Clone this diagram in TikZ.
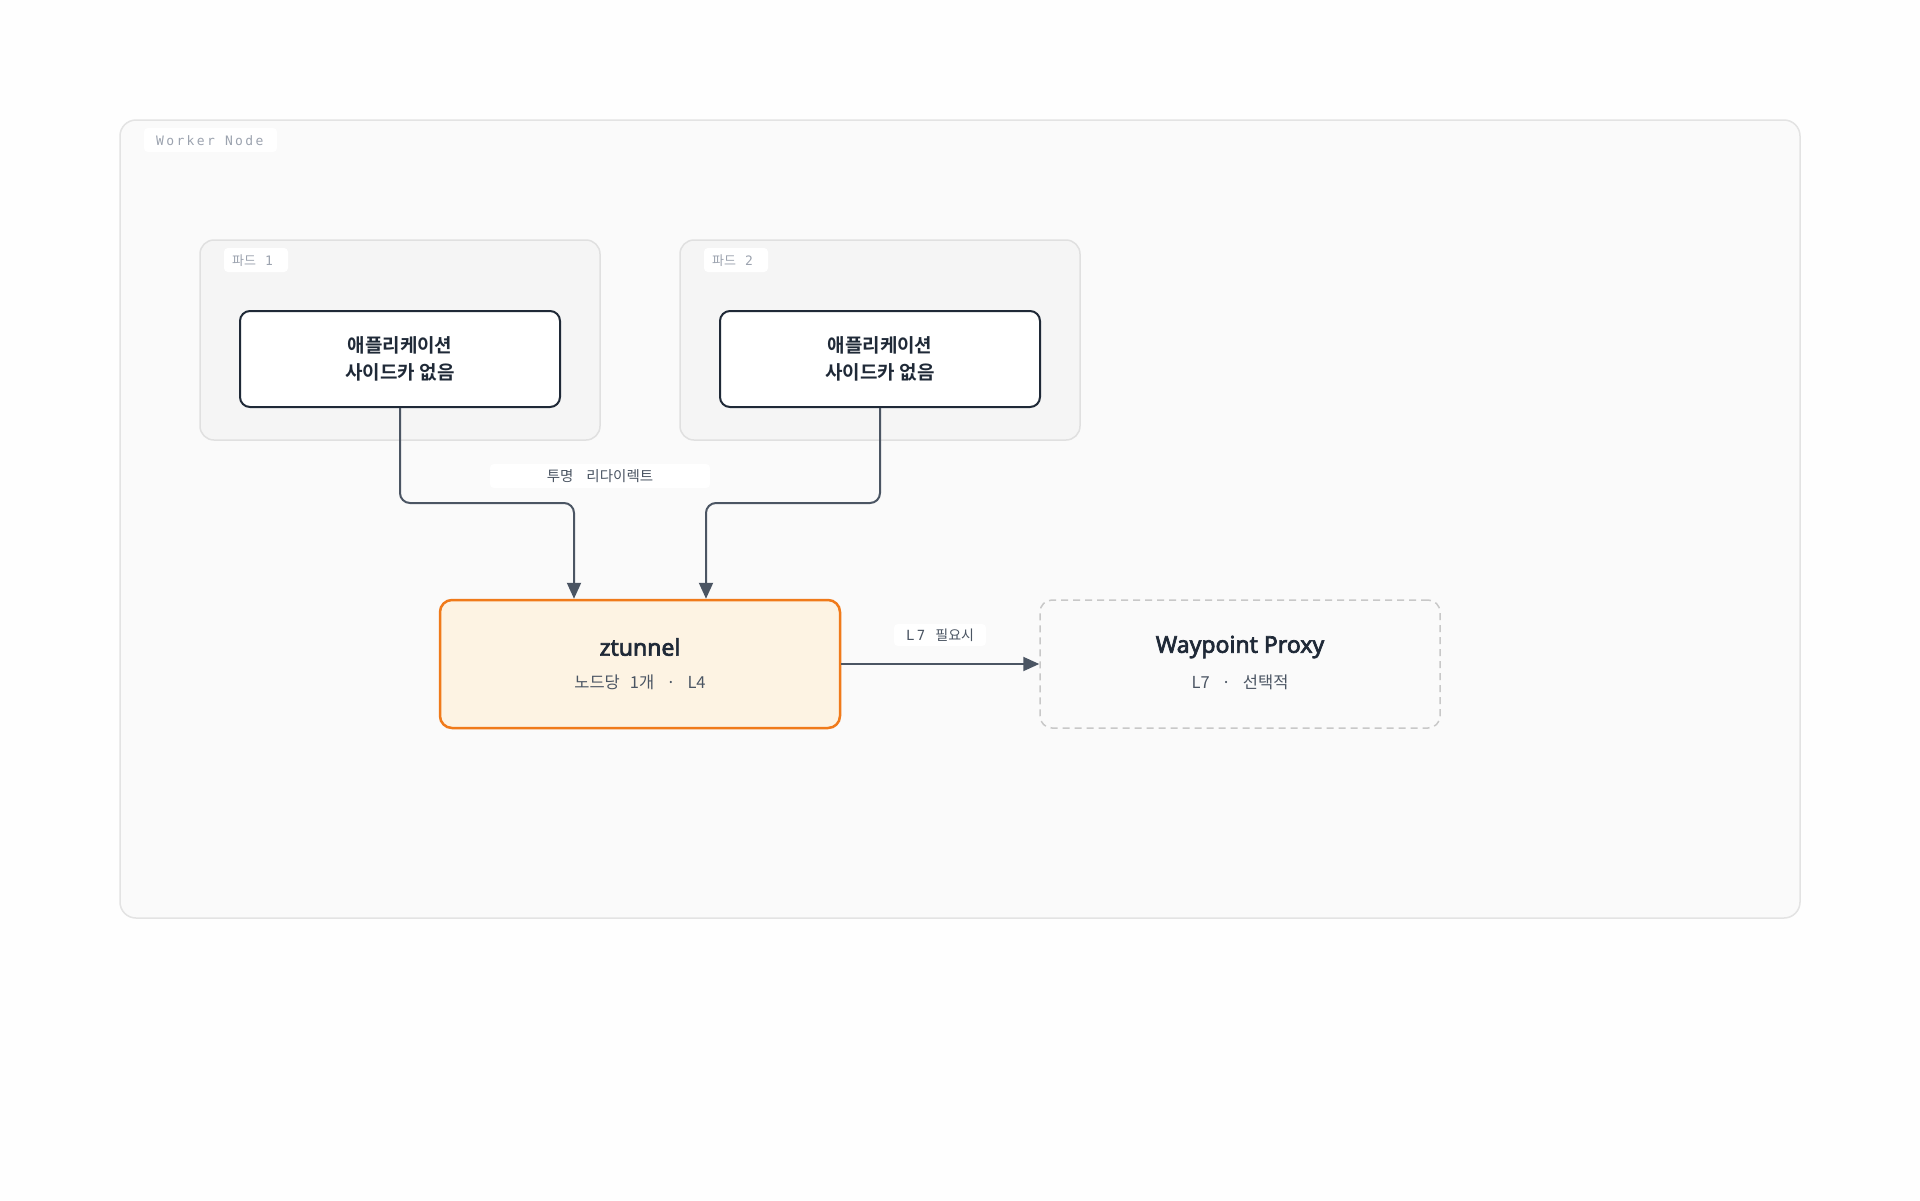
\documentclass[tikz,border=0pt]{standalone}
\usepackage{fontspec}
\usetikzlibrary{arrows.meta,calc}
\newfontfamily\kr{Noto Sans CJK KR}
\newfontfamily\krb{Noto Sans CJK KR Bold}
\newfontfamily\latb{Noto Sans}[FakeBold=3]
\newfontfamily\mono{DejaVu Sans Mono}[LetterSpace=18]
\definecolor{bgpage}{HTML}{FEFEFE}
\definecolor{wnfill}{HTML}{FAFAFA}
\definecolor{wnline}{HTML}{E3E3E3}
\definecolor{podfill}{HTML}{F5F5F5}
\definecolor{podline}{HTML}{E0E0E0}
\definecolor{darkc}{HTML}{1F2937}
\definecolor{arrowc}{HTML}{4B5563}
\definecolor{subc}{HTML}{4B5563}
\definecolor{labgray}{HTML}{9CA3AF}
\definecolor{ztfill}{HTML}{FDF3E3}
\definecolor{ztline}{HTML}{F07A1A}
\definecolor{wpline}{HTML}{C8C8C8}
\tikzset{
  group/.style={draw=wnline, fill=wnfill, line width=1.5pt, rounded corners=16pt, inner sep=0pt},
  podbox/.style={draw=podline, fill=podfill, line width=1.5pt, rounded corners=14pt, minimum width=400pt, minimum height=200pt, inner sep=0pt},
  appbox/.style={draw=darkc, fill=white, line width=2pt, rounded corners=10pt, minimum width=320pt, minimum height=96pt, align=center, text=darkc, font=\krb\fontsize{19}{27}\selectfont, inner sep=0pt},
  tag/.style={fill=white, rounded corners=4pt, inner sep=0pt},
  tagtext/.style={anchor=west, inner sep=0pt, text=labgray, font=\mono\fontsize{13}{13}\selectfont},
  elabel/.style={fill=white, rounded corners=4pt, inner sep=0pt},
  flow/.style={draw=arrowc, line width=2pt, rounded corners=10pt, -{Triangle[length=16pt,width=14pt]}},
  title/.style={text=darkc, font=\latb\fontsize{23}{23}\selectfont, inner sep=0pt},
  subt/.style={text=subc, inner sep=0pt},
}
\begin{document}
\begin{tikzpicture}[x=1pt,y=-1pt]
\path[fill=bgpage] (0,0) rectangle (1920,1200);
\useasboundingbox (0,0) rectangle (1920,1200);

% worker node
\node[group, minimum width=1680pt, minimum height=798pt] (wn) at (960,519) {};
\node[tag, minimum width=133pt, minimum height=24pt] (wntag) at (210.5,140) {};
\node[tagtext] (wntext) at (156,141) {Worker Node};

% pods
\node[podbox] (pod1) at (400,340) {};
\node[podbox] (pod2) at (880,340) {};
\node[tag, minimum width=64pt, minimum height=24pt] (p1tag) at (256,260) {};
\node[tagtext] (p1text) at (232,261) {{\kr 파드}\hspace{9pt}1};
\node[tag, minimum width=64pt, minimum height=24pt] (p2tag) at (736,260) {};
\node[tagtext] (p2text) at (712,261) {{\kr 파드}\hspace{9pt}2};

% apps
\node[appbox] (app1) at (400,359) {애플리케이션\\사이드카 없음};
\node[appbox] (app2) at (880,359) {애플리케이션\\사이드카 없음};

% ztunnel
\node[draw=ztline, fill=ztfill, line width=2.5pt, rounded corners=12pt, minimum width=400pt, minimum height=128pt, inner sep=0pt] (zt) at (640,664) {};
\node[title] (zttitle) at (640,647) {ztunnel};
\node[subt, font=\kr\fontsize{16.5}{16.5}\selectfont] (ztsub) at (640,682) {노드당\hspace{10pt}1개\hspace{12pt}·\hspace{12pt}L4};

% waypoint
\node[draw=wpline, fill=wnfill, line width=1.5pt, dash pattern=on 7pt off 5pt, rounded corners=12pt, minimum width=400pt, minimum height=128pt, inner sep=0pt] (wp) at (1240,664) {};
\node[title] (wptitle) at (1240,647) {Waypoint Proxy};
\node[subt, font=\kr\fontsize{16.5}{16.5}\selectfont] (wpsub) at (1240,682) {L7\hspace{12pt}·\hspace{12pt}선택적};

% connectors
\coordinate (in1) at ($(zt.north)+(-66,0)$);
\coordinate (in2) at ($(zt.north)+(66,0)$);
\draw[flow] (app1.south) -- ++(0,95) -| (in1);
\draw[flow] (app2.south) -- ++(0,95) -| (in2);
\draw[flow] (zt.east) -- (wp.west);

% edge labels
\node[elabel, minimum width=220pt, minimum height=24pt] (lab1bg) at (600,476) {};
\node[subt, font=\kr\fontsize{14.5}{14.5}\selectfont] (lab1) at (600,476) {투명\hspace{13pt}리다이렉트};
\node[elabel, minimum width=92pt, minimum height=22pt] (lab2bg) at (940,635) {};
\node[subt, font=\fontsize{14}{14}\selectfont] (lab2) at (940,635) {{\mono L7}\hspace{10pt}{\kr 필요시}};
\end{tikzpicture}
\end{document}
